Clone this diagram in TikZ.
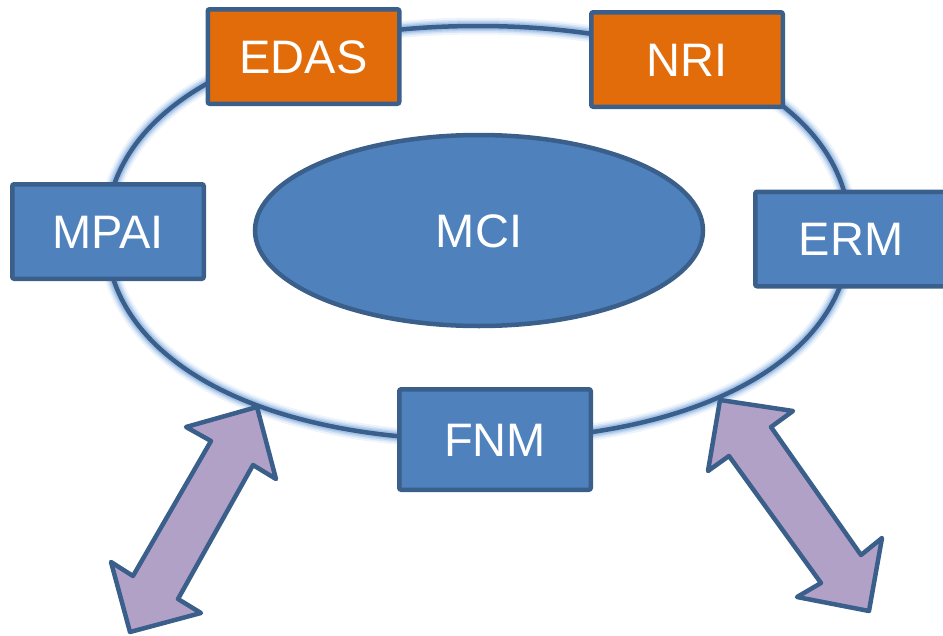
\documentclass[tikz,border=0pt]{standalone}
\usepackage{fontspec}
\setmainfont{Liberation Sans}
\usetikzlibrary{shapes.geometric}
\definecolor{boxblue}{HTML}{4F81BD}
\definecolor{edgeblue}{HTML}{3A5F8B}
\definecolor{boxorange}{HTML}{E36C0A}
\definecolor{arrpurple}{HTML}{B2A1C7}
\definecolor{glowblue}{HTML}{8DB3E2}
\tikzset{
  lbl/.style={font=\fontsize{47}{50}\selectfont, text=white, text height=33.6pt, text depth=0pt, inner sep=0pt},
  bluebox/.style={lbl, draw=edgeblue, fill=boxblue, line width=4.5pt, rounded corners=2pt, minimum width=191.5pt, minimum height=94.5pt},
  orangebox/.style={bluebox, fill=boxorange},
  dblarrow/.style={draw=edgeblue, fill=arrpurple, line width=4.5pt, line join=round},
  ring/.style={draw=edgeblue, line width=4.5pt},
}
\begin{document}
\begin{tikzpicture}[x=1pt, y=-1pt]
\useasboundingbox (0,0) rectangle (943,635);
\clip (0,0) rectangle (943,635);
% glow of the ring
\foreach \w/\o in {17/0.15, 13/0.25, 10/0.35, 7.5/0.55}
  \draw[glowblue, line width=\w pt, opacity=\o]
    (850,233) .. controls (850,357.2) and (701.2,440) .. (478,440)
    .. controls (254.8,440) and (106,357.2) .. (106,233)
    .. controls (106,108.8) and (254.8,26) .. (478,26)
    .. controls (701.2,26) and (850,108.8) .. (850,233) -- cycle;
% ring
\draw[ring]
    (850,233) .. controls (850,357.2) and (701.2,440) .. (478,440)
    .. controls (254.8,440) and (106,357.2) .. (106,233)
    .. controls (106,108.8) and (254.8,26) .. (478,26)
    .. controls (701.2,26) and (850,108.8) .. (850,233) -- cycle;
% centre ellipse
\node[lbl, ellipse, draw=edgeblue, fill=boxblue, line width=4.5pt, minimum width=448pt, minimum height=191pt] (mci) at (479,230.5) {MCI};
% boxes
\node[orangebox] (edas) at (303.5,56.5) {EDAS};
\node[orangebox] (nri) at (687,59.5) {NRI};
\node[bluebox] (mpai) at (108,231.5) {MPAI};
\node[bluebox] (erm) at (851,239) {ERM};
\node[bluebox, minimum height=100.5pt] (fnm) at (495,439.5) {FNM};
% double arrows
\draw[dblarrow] (257,407) -- (276,479) -- (253,465) -- (178,599) -- (201,613) -- (130,632)
  -- (111,562) -- (133,576) -- (211,441) -- (186,427) -- cycle;
\draw[dblarrow] (720,400) -- (793,411) -- (771,427) -- (861,555) -- (882,538) -- (869,611)
  -- (797,597) -- (821,583) -- (729,456) -- (708,471) -- cycle;
\end{tikzpicture}
\end{document}
